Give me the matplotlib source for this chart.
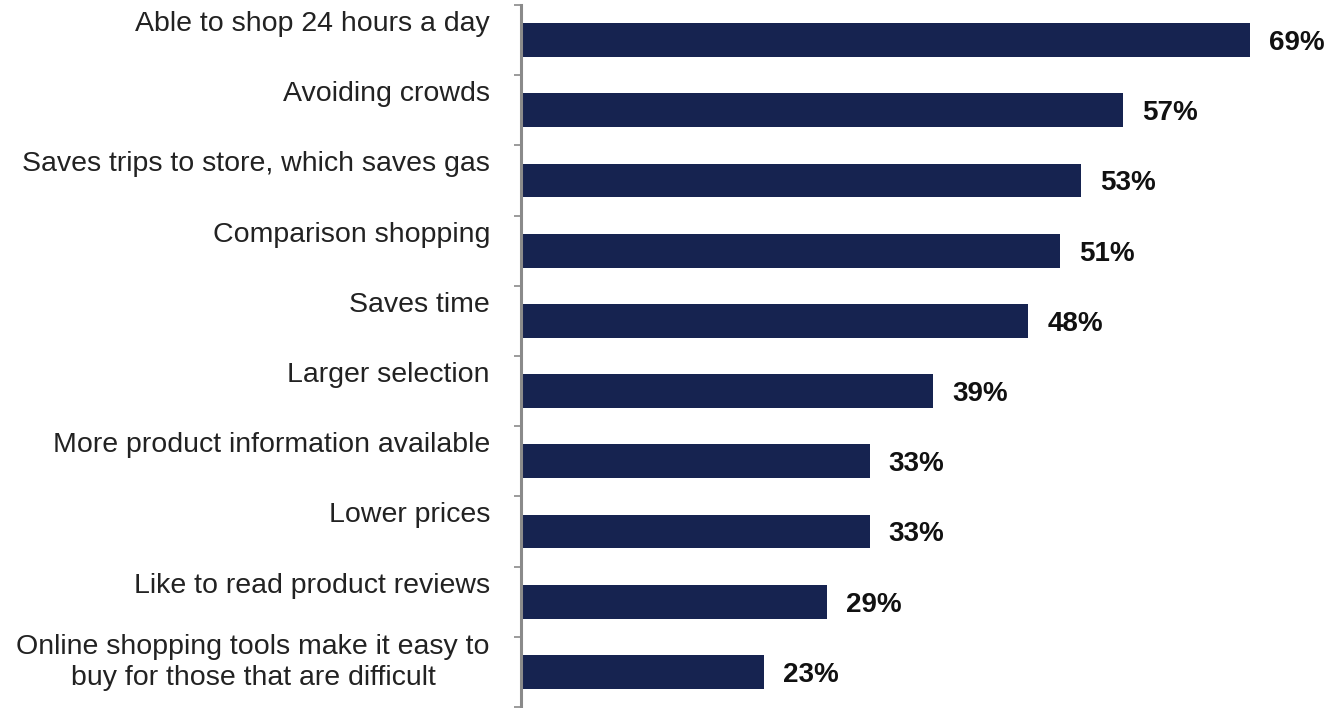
import numpy as np
import matplotlib.pyplot as plt

plt.rcParams['font.family'] = ['Liberation Sans', 'DejaVu Sans']

# 数据
categories = [
    'Able to shop 24 hours a day',
    'Avoiding crowds',
    'Saves trips to store, which saves gas',
    'Comparison shopping',
    'Saves time',
    'Larger selection',
    'More product information available',
    'Lower prices',
    'Like to read product reviews',
    'Online shopping tools make it easy to\nbuy for those that are difficult',
]
values = [69, 57, 53, 51, 48, 39, 33, 33, 29, 23]
value_labels = ['69%', '57%', '53%', '51%', '48%', '39%', '33%', '33%', '29%', '23%']

bar_color = '#162350'
axis_color = '#8a8a8a'

fig = plt.figure(figsize=(13.44, 7.08), dpi=100)
ax = fig.add_axes([521 / 1344, 1 / 708, 1 - 521 / 1344, 702 / 708])

y = np.arange(len(categories))
ax.barh(y, values, height=0.48, color=bar_color, zorder=2)

ax.set_xlim(0, 77.9)
ax.set_ylim(len(categories) - 0.5, -0.5)

# 坐标轴样式
for side in ['top', 'right', 'bottom']:
    ax.spines[side].set_visible(False)
ax.spines['left'].set_color(axis_color)
ax.spines['left'].set_linewidth(2.2)
ax.spines['left'].set_zorder(3)
ax.set_xticks([])
ax.set_yticks([])
ax.set_yticks(np.arange(-0.5, len(categories)), minor=True)
ax.tick_params(axis='y', which='minor', length=5, width=1.2, color=axis_color, direction='out')
ax.tick_params(axis='y', which='major', length=0)

# 类别标签
for i, label in enumerate(categories):
    offset = -0.23 if '\n' not in label else -0.13
    ax.text(-0.0377, i + offset, label, transform=ax.get_yaxis_transform(),
            ha='right', va='center', fontsize=20.5, color='#222222',
            multialignment='center', linespacing=1.27)

# 数值标签
for i, (v, s) in enumerate(zip(values, value_labels)):
    ax.text(v + 1.8, i + 0.04, s, ha='left', va='center', fontsize=20,
            fontweight='bold', color='#111111')

fig.savefig('out.png', dpi=100)
